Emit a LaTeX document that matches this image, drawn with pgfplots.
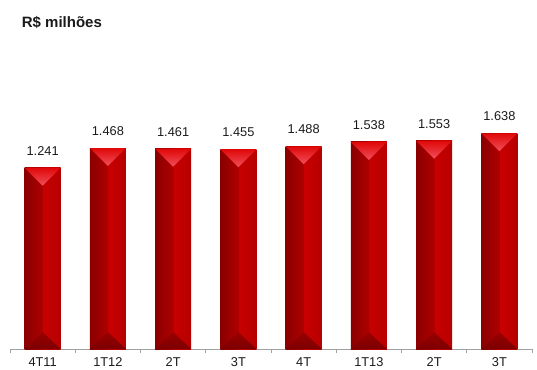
\documentclass[border=0pt]{standalone}
\usepackage{pgfplots}
\pgfplotsset{compat=1.18}
\usepackage{pgfplotstable}
\usepackage{fontspec}
\setmainfont{Liberation Sans}
\definecolor{barL}{HTML}{8A0000}
\definecolor{barM}{HTML}{AE0000}
\definecolor{barM2}{HTML}{C80000}
\definecolor{barR}{HTML}{B60000}
\definecolor{triA}{HTML}{F0505C}
\definecolor{triB}{HTML}{E00808}
\definecolor{botA}{HTML}{7C0000}
\definecolor{botB}{HTML}{9A0000}
\definecolor{axisgray}{HTML}{A0A0A0}
\definecolor{txt}{HTML}{1A1A1A}
\pgfdeclarehorizontalshading{barshade}{100bp}{color(0bp)=(barL); color(25bp)=(barL); color(49.6bp)=(barM); color(50.4bp)=(barM2); color(75bp)=(barR); color(100bp)=(barR)}
\pgfdeclareverticalshading{tritop}{100bp}{color(0bp)=(triA); color(25bp)=(triA); color(75bp)=(triB); color(100bp)=(triB)}
\pgfdeclareverticalshading{tribot}{100bp}{color(0bp)=(botA); color(25bp)=(botA); color(75bp)=(botB); color(100bp)=(botB)}
\pgfdeclareplotmark{bartop}{%
  \pgfpathmoveto{\pgfqpoint{-18pt}{0pt}}%
  \pgfpathlineto{\pgfqpoint{18pt}{0pt}}%
  \pgfpathlineto{\pgfqpoint{0pt}{-18pt}}%
  \pgfpathclose
  \pgfshadepath{tritop}{0}\pgfusepath{}}
\pgfdeclareplotmark{barbot}{%
  \pgfpathmoveto{\pgfqpoint{-18pt}{0pt}}%
  \pgfpathlineto{\pgfqpoint{18pt}{0pt}}%
  \pgfpathlineto{\pgfqpoint{0pt}{17pt}}%
  \pgfpathclose
  \pgfshadepath{tribot}{0}\pgfusepath{}}
\pgfplotstableread{
x y lbl
0 1.241 1.241
1 1.468 1.468
2 1.461 1.461
3 1.455 1.455
4 1.488 1.488
5 1.538 1.538
6 1.553 1.553
7 1.638 1.638
}\data
\begin{document}
\begin{tikzpicture}
\begin{axis}[
  at={(10pt,20pt)}, anchor=south west,
  scale only axis, width=522pt, height=289pt,
  xmin=-0.5, xmax=7.5, ymin=0, ymax=3.345,
  axis x line*=bottom, axis y line=none,
  x axis line style={draw=axisgray, line width=0.8pt, -},
  xtick={0,...,7},
  xticklabels={4T11,1T12,2T,3T,4T,1T13,2T,3T},
  major tick length=0pt,
  minor xtick={-0.5,0.5,...,7.5},
  minor tick length=3.5pt,
  xtick align=outside,
  minor tick style={draw=axisgray, line width=0.8pt},
  xticklabel style={anchor=base, yshift=-17pt, font=\fontsize{12.8}{15}\selectfont, text=txt},
  clip=false,
]
\pgfplotsinvokeforeach{0,...,7}{
\addplot[ybar, bar width=36pt, shade, shading=barshade, draw=none,
  x filter/.expression={x==#1 ? x : nan},
  y filter/.expression={y+0.858},
  point meta=explicit symbolic,
  nodes near coords,
  nodes near coords style={anchor=base, yshift=12.5pt, font=\fontsize{12.8}{15}\selectfont, text=txt}]
  table[x=x, y=y, meta=lbl] {\data};
}
\addplot[only marks, mark=bartop, y filter/.expression={y+0.858}]
  table[x=x, y=y] {\data};
\addplot[only marks, mark=barbot]
  table[x=x, y expr=0] {\data};
\end{axis}
\node[anchor=base west, inner sep=0pt, font=\bfseries\fontsize{15}{18}\selectfont, text=txt] at (21.7pt,341.7pt) {R\$ milhões};
\pgfresetboundingbox
\path[use as bounding box] (0,0) rectangle (537pt,369pt);
\end{tikzpicture}
\end{document}
